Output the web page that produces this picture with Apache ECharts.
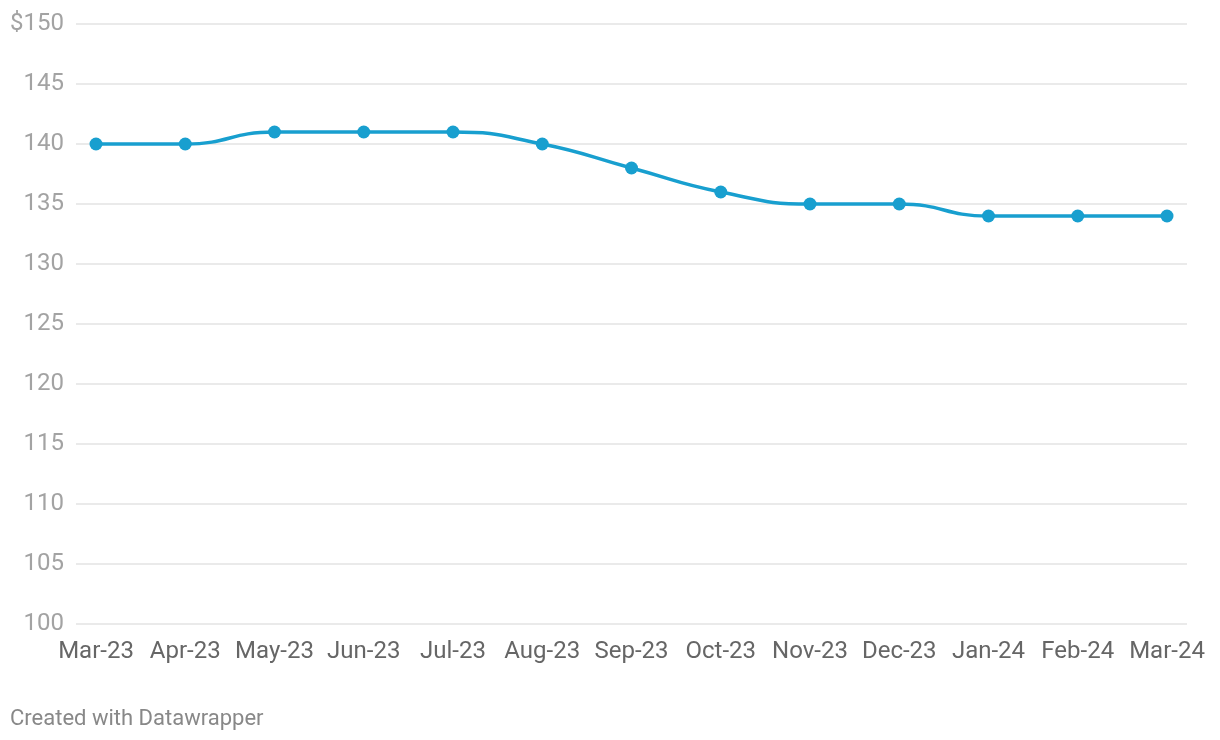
<!DOCTYPE html>
<html>
<head>
<meta charset="utf-8">
<script src="https://cdn.jsdelivr.net/npm/echarts@6/dist/echarts.min.js"></script>
<style>
html,body{margin:0;padding:0;background:#fff;}
#c{width:1220px;height:740px;}
</style>
</head>
<body>
<div id="c"></div>
<script>
const categories = ["Mar-23","Apr-23","May-23","Jun-23","Jul-23","Aug-23","Sep-23","Oct-23","Nov-23","Dec-23","Jan-24","Feb-24","Mar-24"];
const prices = [140,140,141,141,141,140,138,136,135,135,134,134,134];
const yMin = 100, yMax = 150, yStep = 5;

const chart = echarts.init(document.getElementById('c'), null, {renderer:'canvas'});
const font = 'Roboto, "Noto Sans", sans-serif';
chart.setOption({
  animation:false,
  graphic:[{type:'text', left:10, top:708, style:{text:'Created with Datawrapper', fill:'#888888', font:'22px ' + font}}],
  grid:[
    {left:76, right:33, top:24, bottom:116, containLabel:false},
    {left:96, right:53, top:24, bottom:116, containLabel:false}
  ],
  xAxis:[
    {gridIndex:0, type:'value', min:0, max:1, show:false},
    {gridIndex:1, type:'category', data:categories, boundaryGap:false,
     axisLine:{show:false}, axisTick:{show:false},
     axisLabel:{color:'#666666', fontSize:24, fontFamily:font, margin:16, interval:0}}
  ],
  yAxis:[
    {gridIndex:0, type:'value', min:yMin, max:yMax, interval:yStep,
     axisLine:{show:false}, axisTick:{show:false},
     splitLine:{lineStyle:{color:'#e3e3e3', width:1.5}},
     axisLabel:{color:'#a3a3a3', fontSize:24, fontFamily:font, margin:12,
       formatter:v => v === yMax ? '$' + v : String(v)}},
    {gridIndex:1, type:'value', min:yMin, max:yMax, interval:yStep, show:false, splitLine:{show:false}}
  ],
  series:[{
    type:'line', xAxisIndex:1, yAxisIndex:1, data:prices,
    smooth:true,
    symbol:'circle', symbolSize:13,
    lineStyle:{color:'#189fcf', width:3.5},
    itemStyle:{color:'#189fcf'}
  }]
});
</script>
</body>
</html>
